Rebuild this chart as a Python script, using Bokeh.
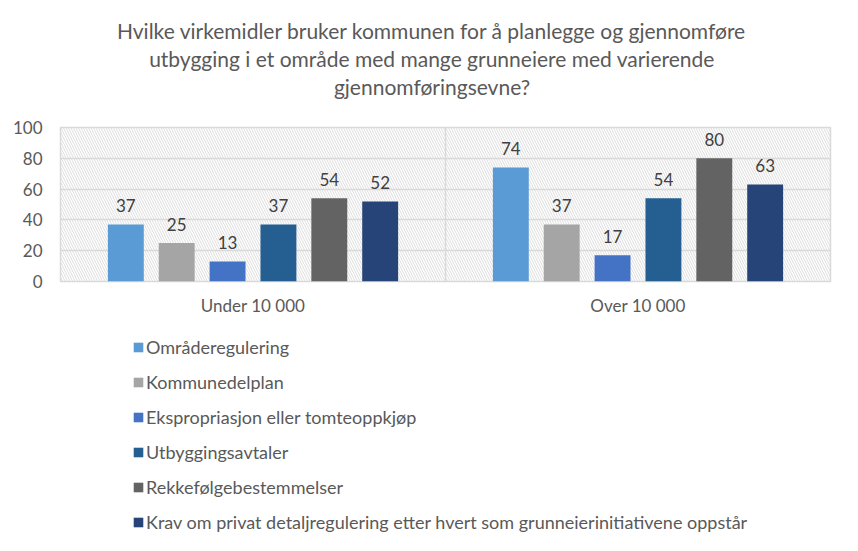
from bokeh.plotting import figure
from bokeh.layouts import column
from bokeh.models import (ColumnDataSource, LabelSet, Legend, LegendItem, Span,
                          BoxAnnotation, Title, FixedTicker, Range1d)
from bokeh.transform import dodge
from bokeh.core.properties import value
from bokeh.embed import file_html
from bokeh.resources import INLINE

categories = ["Under 10 000", "Over 10 000"]
series_names = [
    "Områderegulering",
    "Kommunedelplan",
    "Ekspropriasjon eller tomteoppkjøp",
    "Utbyggingsavtaler",
    "Rekkefølgebestemmelser",
    "Krav om privat detaljregulering etter hvert som grunneierinitiativene oppstår",
]
omraderegulering = [37, 74]
kommunedelplan = [25, 37]
ekspropriasjon = [13, 17]
utbyggingsavtaler = [37, 54]
rekkefolge = [54, 80]
krav = [52, 63]
series_values = [omraderegulering, kommunedelplan, ekspropriasjon,
                 utbyggingsavtaler, rekkefolge, krav]
colors = ["#5B9BD5", "#A5A5A5", "#4472C4", "#255E91", "#636363", "#264478"]
y_ticks = [0, 20, 40, 60, 80, 100]
title_lines = [
    "Hvilke virkemidler bruker kommunen for å planlegge og gjennomføre",
    "utbygging i et område med mange grunneiere med varierende",
    "gjennomføringsevne?",
]

FONT = "Lato"
TXT = "#595959"

data = {"cat": categories}
for i, vals in enumerate(series_values):
    data[f"s{i}"] = vals
    data[f"l{i}"] = [str(v) for v in vals]
src = ColumnDataSource(data)

# ---------------- main chart ----------------
p = figure(x_range=categories, y_range=(0, 100),
           frame_width=770, frame_height=154,
           min_border_left=60, min_border_right=12, min_border_top=127,
           min_border_bottom=40,
           output_backend="svg", toolbar_location=None, tools="")

hatch = BoxAnnotation(fill_alpha=0, line_alpha=0, hatch_pattern="\\",
                      hatch_color="#DDDDDD", hatch_scale=5, hatch_weight=1,
                      level="image")
p.add_layout(hatch)

p.outline_line_color = "#D9D9D9"
p.outline_line_width = 1.5
p.xgrid.grid_line_color = None
p.ygrid.grid_line_color = "#D9D9D9"
p.ygrid.grid_line_width = 1.5
p.yaxis.ticker = FixedTicker(ticks=y_ticks)
for ax in (p.xaxis, p.yaxis):
    ax.axis_line_color = None
    ax.major_tick_line_color = None
    ax.minor_tick_line_color = None
    ax.major_label_text_font = FONT
    ax.major_label_text_font_size = "17px"
    ax.major_label_text_color = TXT
p.yaxis.major_label_standoff = 12
p.xaxis.major_label_standoff = 7

p.add_layout(Span(location=1, dimension="height", line_color="#D9D9D9", line_width=1.5))

bar_w = 36 / 386
step = 51 / 386
for i, name in enumerate(series_names):
    off = (i - 2.5) * step
    p.vbar(x=dodge("cat", off, range=p.x_range), top=f"s{i}", width=bar_w,
           source=src, fill_color=colors[i], line_color=None)
    lbl = LabelSet(x=dodge("cat", off, range=p.x_range), y=f"s{i}", text=f"l{i}",
                   source=src, y_offset=19, text_align="center",
                   text_baseline="middle", text_font=value(FONT),
                   text_font_size="17px", text_color="#404040")
    p.add_layout(lbl)

# spacer between title and plot area
p.add_layout(Title(text=" ", text_font_size="1px", standoff=25), "above")
for k, t in reversed(list(enumerate(title_lines))):
    p.add_layout(Title(text=t, align="center", standoff=1,
                       padding={"left": 0, "right": 27, "top": 0, "bottom": 0},
                       text_font=FONT, text_font_size="21px",
                       text_font_style="normal", text_color=TXT), "above")

# ---------------- legend panel ----------------
# same bars, with a y range that keeps them out of view; only the legend shows
pl = figure(width=842, height=214, x_range=p.x_range, y_range=Range1d(1000, 1001),
            min_border=0, x_axis_type=None, y_axis_type=None,
            output_backend="svg", toolbar_location=None, tools="")
pl.outline_line_color = None
pl.xgrid.grid_line_color = None
pl.ygrid.grid_line_color = None
items = []
for i, name in enumerate(series_names):
    off = (i - 2.5) * step
    r = pl.vbar(x=dodge("cat", off, range=p.x_range), top=f"s{i}", width=bar_w,
                source=src, fill_color=colors[i], line_color=None)
    items.append(LegendItem(label=name, renderers=[r]))
legend = Legend(items=items, location=(72, 2), orientation="vertical",
                border_line_color=None, background_fill_alpha=0,
                label_text_font=FONT, label_text_font_size="18px",
                label_text_color=TXT, glyph_width=12, glyph_height=12,
                label_height=22, spacing=13, padding=0, margin=0,
                label_standoff=2)
pl.add_layout(legend)

open("out.html", "w").write(file_html(column(p, pl, spacing=0), INLINE))
